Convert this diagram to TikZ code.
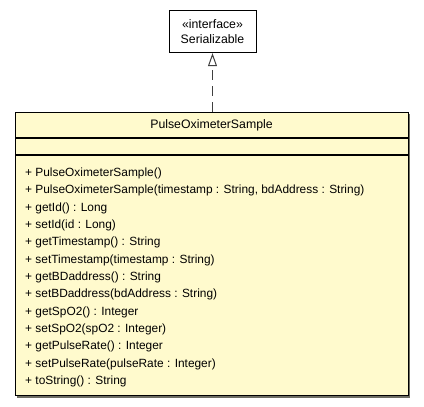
\documentclass[tikz,border=0pt]{standalone}
\usepackage{fontspec}
\setmainfont{Liberation Sans}
\usetikzlibrary{arrows.meta}
\definecolor{classfill}{RGB}{255,250,205}
\definecolor{shadowgray}{RGB}{110,110,100}

\tikzset{
  umlbox/.style={draw=black, line width=0.9pt, inner sep=0pt},
  umltext/.style={font=\fontsize{12.3}{15}\selectfont},
  realizes/.style={draw=black!75, line width=1.3pt, dash pattern=on 10pt off 6pt,
    -{Triangle[open, length=13pt, width=9pt, line width=1pt, fill=white]}}
}

\begin{document}
\begin{tikzpicture}[x=1pt,y=-1pt]
			\useasboundingbox (0,0) rectangle (424,407);
			% interface
			\node[umlbox, umltext, fill=white, minimum width=87pt, minimum height=42pt, align=center] (iface) at (212.5,31.7) {«interface»\\Serializable};
			% class with shadow
			\fill[shadowgray] (17,114) rectangle (410,398);
			\node[umlbox, fill=classfill, minimum width=393pt, minimum height=283.5pt] (cls) at (211.5,254.1) {};
			\draw[line width=1.6pt] (15,137.7) -- (408,137.7);
			\draw[line width=1.6pt] (15,155) -- (408,155);
			\node[umltext] (clsname) at (211.5,125.5) {PulseOximeterSample};
			\node[anchor=north west, align=left, inner sep=0pt, font=\fontsize{11.9}{17.35}\selectfont] (methods) at (25,167.5) {%
				+ PulseOximeterSample()\\
				+ PulseOximeterSample(timestamp : String, bdAddress : String)\\
				+ getId() : Long\\
				+ setId(id : Long)\\
				+ getTimestamp() : String\\
				+ setTimestamp(timestamp : String)\\
				+ getBDaddress() : String\\
				+ setBDaddress(bdAddress : String)\\
				+ getSpO2() : Integer\\
				+ setSpO2(spO2 : Integer)\\
				+ getPulseRate() : Integer\\
				+ setPulseRate(pulseRate : Integer)\\
				+ toString() : String};
			% realization
			\draw[realizes] (cls.north -| iface.south) -- (iface.south);
		\end{tikzpicture}
\end{document}
